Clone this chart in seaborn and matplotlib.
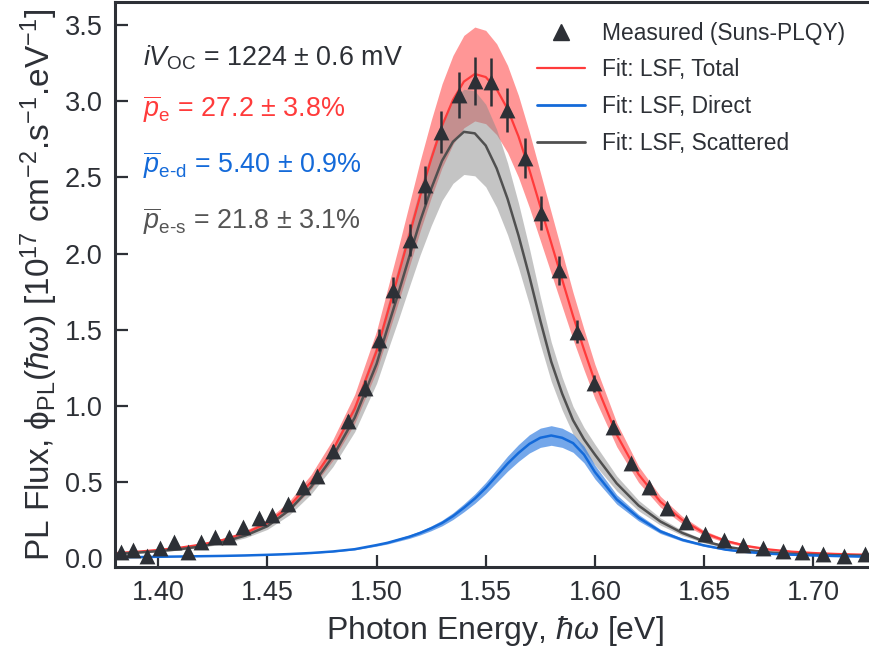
import matplotlib
matplotlib.use("Agg")
import matplotlib.pyplot as plt
from matplotlib.lines import Line2D
import numpy as np
import pandas as pd
import seaborn as sns

# ---- measured Suns-PLQY spectrum ----
energy_meas = [1.3828, 1.3886, 1.3948, 1.4009, 1.4070, 1.4135, 1.4197, 1.4262, 1.4324, 1.4390,
               1.4462, 1.4523, 1.4593, 1.4662, 1.4727, 1.4800, 1.4869, 1.4945, 1.5013, 1.5077,
               1.5151, 1.5220, 1.5294, 1.5377, 1.5450, 1.5524, 1.5598, 1.5680, 1.5754, 1.5837,
               1.5920, 1.5997, 1.6081, 1.6165, 1.6250, 1.6331, 1.6416, 1.6503, 1.6591, 1.6680,
               1.6768, 1.6860, 1.6948, 1.7045, 1.7140, 1.7235]
flux_meas = [0.041, 0.053, 0.013, 0.064, 0.107, 0.041, 0.107, 0.140, 0.140, 0.206,
             0.261, 0.283, 0.355, 0.465, 0.540, 0.706, 0.897, 1.116, 1.430, 1.761,
             2.089, 2.451, 2.799, 3.042, 3.134, 3.127, 2.943, 2.628, 2.267, 1.892,
             1.487, 1.148, 0.863, 0.622, 0.464, 0.326, 0.238, 0.161, 0.118, 0.085,
             0.064, 0.048, 0.037, 0.026, 0.013, 0.026]
flux_err = [0.002, 0.003, 0.001, 0.003, 0.005, 0.002, 0.005, 0.007, 0.007, 0.010,
            0.013, 0.014, 0.018, 0.023, 0.027, 0.035, 0.045, 0.056, 0.072, 0.088,
            0.104, 0.123, 0.140, 0.152, 0.157, 0.156, 0.147, 0.131, 0.113, 0.095,
            0.074, 0.057, 0.043, 0.031, 0.023, 0.016, 0.012, 0.008, 0.006, 0.004,
            0.003, 0.002, 0.002, 0.001, 0.001, 0.001]

# ---- LSF fit curves ----
energy_fit = [1.38, 1.39, 1.40, 1.41, 1.42, 1.43, 1.44, 1.45, 1.46, 1.47, 1.48, 1.49, 1.50,
              1.505, 1.51, 1.515, 1.52, 1.525, 1.53, 1.535, 1.54, 1.545, 1.55, 1.555, 1.56,
              1.565, 1.57, 1.575, 1.58, 1.585, 1.59, 1.595, 1.60,
              1.61, 1.62, 1.63, 1.64, 1.65, 1.66, 1.67, 1.68, 1.69, 1.70, 1.71, 1.72, 1.73]
fit_total = [0.032, 0.041, 0.053, 0.068, 0.089, 0.120, 0.165, 0.230, 0.340, 0.500, 0.710, 0.980, 1.360,
             1.610, 1.860, 2.120, 2.380, 2.620, 2.840, 3.010, 3.130, 3.180, 3.160, 3.080, 2.950,
             2.770, 2.550, 2.310, 2.070, 1.830, 1.590, 1.370, 1.160,
             0.810, 0.550, 0.370, 0.250, 0.165, 0.112, 0.078, 0.056, 0.042, 0.033, 0.027, 0.023, 0.020]
fit_direct = [0.005, 0.006, 0.008, 0.010, 0.012, 0.014, 0.017, 0.021, 0.026, 0.033, 0.043, 0.058, 0.085,
              0.100, 0.120, 0.140, 0.165, 0.195, 0.230, 0.275, 0.330, 0.390, 0.460, 0.540, 0.620,
              0.690, 0.750, 0.790, 0.805, 0.790, 0.755, 0.680, 0.565,
              0.385, 0.265, 0.175, 0.120, 0.083, 0.055, 0.039, 0.028, 0.022, 0.017, 0.013, 0.010, 0.008]
fit_scattered = [0.027, 0.035, 0.045, 0.058, 0.077, 0.106, 0.148, 0.209, 0.314, 0.467, 0.667, 0.922, 1.275,
                 1.510, 1.740, 1.980, 2.215, 2.425, 2.610, 2.735, 2.800, 2.790, 2.710, 2.560, 2.360,
                 2.120, 1.850, 1.560, 1.290, 1.080, 0.905, 0.780, 0.680,
                 0.490, 0.345, 0.240, 0.165, 0.110, 0.075, 0.052, 0.037, 0.028, 0.022, 0.018, 0.016, 0.014]
# relative confidence half-widths of each fitted component
band_total = 0.097
band_direct = 0.08
band_scattered = 0.10

legend_labels = ["Measured (Suns-PLQY)", "Fit: LSF, Total", "Fit: LSF, Direct", "Fit: LSF, Scattered"]

INK = "#2d3036"
RED = "#ff3b3b"
BLUE = "#146ad9"
GRAY = "#505050"

sns.set_theme(style="ticks")
plt.rcParams["font.family"] = ["Liberation Sans", "DejaVu Sans"]
plt.rcParams["mathtext.fontset"] = "custom"
plt.rcParams["mathtext.rm"] = "Liberation Sans"
plt.rcParams["mathtext.it"] = "Liberation Sans:italic"
plt.rcParams["mathtext.bf"] = "Liberation Sans:bold"
plt.rcParams["axes.edgecolor"] = INK
plt.rcParams["text.color"] = INK
plt.rcParams["axes.labelcolor"] = INK
plt.rcParams["xtick.color"] = INK
plt.rcParams["ytick.color"] = INK

fits = pd.DataFrame({"E": energy_fit, "total": fit_total,
                     "direct": fit_direct, "scattered": fit_scattered})
meas = pd.DataFrame({"E": energy_meas, "flux": flux_meas, "err": flux_err})

fig = plt.figure(figsize=(8.7, 6.55), dpi=100)
ax = fig.add_axes([115 / 870, 88 / 655, 760 / 870, 565 / 655])

# confidence bands
ax.fill_between(fits["E"], fits["total"] * (1 - band_total), fits["total"] * (1 + band_total),
                color="#ff5050", alpha=0.6, lw=0)
ax.fill_between(fits["E"], fits["scattered"] * (1 - band_scattered), fits["scattered"] * (1 + band_scattered),
                color="#8a8a8a", alpha=0.5, lw=0)
ax.fill_between(fits["E"], fits["direct"] * (1 - band_direct), fits["direct"] * (1 + band_direct),
                color="#2a78e0", alpha=0.65, lw=0)

sns.lineplot(data=fits, x="E", y="total", ax=ax, color=RED, lw=1.6)
sns.lineplot(data=fits, x="E", y="scattered", ax=ax, color=GRAY, lw=1.8)
sns.lineplot(data=fits, x="E", y="direct", ax=ax, color=BLUE, lw=1.8)

ax.errorbar(meas["E"], meas["flux"], yerr=meas["err"], fmt="none",
            ecolor=INK, elinewidth=1.8, capsize=0, zorder=4)
sns.scatterplot(data=meas, x="E", y="flux", ax=ax, marker="^", s=130,
                color=INK, edgecolor=INK, linewidth=0, zorder=5)

ax.set_xlim(1.3802, 1.7283)
ax.set_ylim(-0.059, 3.653)
ax.set_xticks([1.40, 1.45, 1.50, 1.55, 1.60, 1.65, 1.70])
ax.set_yticks([0.0, 0.5, 1.0, 1.5, 2.0, 2.5, 3.0, 3.5])
ax.xaxis.set_major_formatter(matplotlib.ticker.FormatStrFormatter("%.2f"))
ax.yaxis.set_major_formatter(matplotlib.ticker.FormatStrFormatter("%.1f"))
ax.tick_params(direction="in", length=9, width=1.6, labelsize=19.5, pad=9)
for side in ["left", "bottom", "top"]:
    ax.spines[side].set_linewidth(2.2)
ax.spines["right"].set_visible(False)

ax.set_xlabel(r"Photon Energy, $\hbar\omega$ [eV]", fontsize=23, labelpad=6)
ax.set_ylabel(r"PL Flux, ϕ$_{\text{PL}}$($\hbar\omega$) [10$^{17}$ cm$^{-2}$.s$^{-1}$.eV$^{-1}$]",
              fontsize=24, labelpad=3)

ann_kw = dict(transform=ax.transAxes, va="center", ha="left", fontsize=19.4)
ax.text(0.037, 0.902, r"$iV_{\text{OC}}$ = 1224 $\pm$ 0.6 mV", color=INK, **ann_kw)
ax.text(0.037, 0.810, r"$\overline{p}_{\text{e}}$ = 27.2 $\pm$ 3.8%", color=RED, **ann_kw)
ax.text(0.037, 0.711, r"$\overline{p}_{\text{e-d}}$ = 5.40 $\pm$ 0.9%", color=BLUE, **ann_kw)
ax.text(0.037, 0.612, r"$\overline{p}_{\text{e-s}}$ = 21.8 $\pm$ 3.1%", color="#555555", **ann_kw)

handles = [Line2D([], [], marker="^", ls="none", color=INK, ms=11),
           Line2D([], [], color=RED, lw=1.6),
           Line2D([], [], color=BLUE, lw=2.0),
           Line2D([], [], color=GRAY, lw=2.0)]
ax.legend(handles, legend_labels, loc="upper left", bbox_to_anchor=(0.555, 0.965),
          frameon=False, fontsize=16.4, handlelength=2.1, labelspacing=0.6,
          handletextpad=0.75, borderpad=0, borderaxespad=0)

fig.savefig("out.png", dpi=100)
